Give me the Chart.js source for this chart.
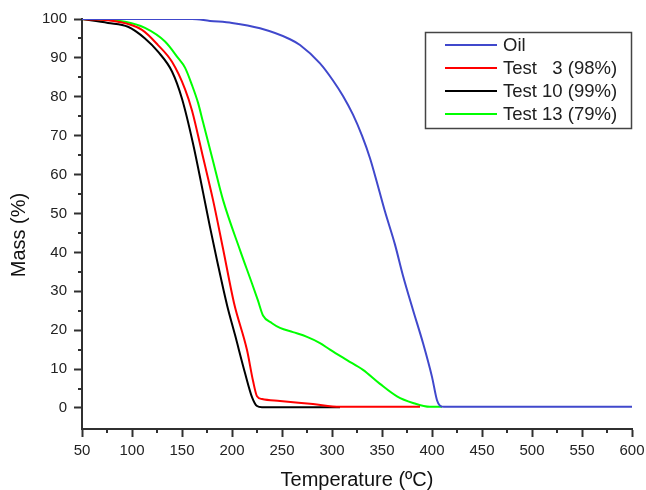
<!DOCTYPE html>
<html>
<head>
<meta charset="utf-8">
<script src="https://cdn.jsdelivr.net/npm/chart.js@4/dist/chart.umd.min.js"></script>
<style>
	html, body { margin: 0; padding: 0; background: #fff; }
	#wrap { width: 646px; height: 490px; }
</style>
</head>
<body>
<div id="wrap"><canvas id="tga-chart" width="646" height="490"></canvas></div>
<script>
// values
const oilTemp = [50, 160, 178, 200, 228, 258, 268, 288, 301, 311, 321, 330, 338, 346, 353, 363, 371, 381, 391, 400, 405, 408, 412, 600];
const oilMass = [100, 100, 99.5, 99, 97.6, 94.8, 93.3, 88.6, 84.2, 80.2, 75.4, 70, 64.2, 57, 50.5, 42, 34, 25.2, 16.7, 8, 2, 0.6, 0.3, 0.3];

const test3Temp = [50, 86, 110, 126, 140, 153, 160, 171, 181, 191, 202, 215, 221, 225, 230, 248, 281, 308, 388];
const test3Mass = [100, 99.3, 97.2, 93.3, 89, 82, 76.5, 64.5, 53.5, 41, 27, 14.9, 7, 3, 2.3, 1.8, 1, 0.3, 0.3];

const test10Temp = [50, 76, 96, 113, 126, 140, 150, 161, 171, 178, 185, 195, 203, 213, 220, 225, 230, 308];
const test10Mass = [100, 99, 98, 95, 91.6, 86.5, 79.5, 68, 55.5, 46.5, 38, 26.5, 18.8, 9, 2.8, 0.5, 0.2, 0.2];

const test13Temp = [50, 93, 113, 133, 146, 153, 160, 166, 171, 181, 191, 208, 220, 226, 231, 240, 248, 261, 275, 288, 298, 315, 331, 348, 365, 381, 398, 410];
const test13Mass = [100, 99.3, 97.7, 94.2, 90, 87.5, 83, 78.5, 73.5, 63.5, 53.5, 40.6, 32, 27.6, 23.8, 21.8, 20.6, 19.5, 18.3, 16.7, 15, 12.3, 9.8, 6.2, 3, 1.3, 0.3, 0.3];

const seriesLabels = ["Oil", "Test   3 (98%)", "Test 10 (99%)", "Test 13 (79%)"];
const seriesColors = ["#4048cc", "#ff0000", "#000000", "#00ff00"];

const xTicks = [50, 100, 150, 200, 250, 300, 350, 400, 450, 500, 550, 600];
const yTicks = [0, 10, 20, 30, 40, 50, 60, 70, 80, 90, 100];

const FONT = "'Liberation Sans', Arial, sans-serif";
const AXIS = "#303030";

function toPoints(xs, ys) {
	return xs.map((x, i) => ({ x: x, y: ys[i] }));
}

const datasets = [
	toPoints(oilTemp, oilMass),
	toPoints(test3Temp, test3Mass),
	toPoints(test10Temp, test10Mass),
	toPoints(test13Temp, test13Mass),
].map((pts, i) => ({
	label: seriesLabels[i],
	data: pts,
	borderColor: seriesColors[i],
	backgroundColor: seriesColors[i],
	borderWidth: 2,
	pointRadius: 0,
	cubicInterpolationMode: "monotone",
}));

// minor ticks, y title and framed legend, drawn on top
const extras = {
	id: "extras",
	afterDraw(chart) {
		const c = chart.ctx;
		const xs = chart.scales.x;
		const ys = chart.scales.y;
		c.save();
		c.strokeStyle = AXIS;
		c.lineWidth = 2;
		c.beginPath();
		for (let v = 75; v < 600; v += 50) {
			const px = Math.round(xs.getPixelForValue(v));
			c.moveTo(px, xs.top);
			c.lineTo(px, xs.top + 4);
		}
		for (let v = 5; v < 100; v += 10) {
			const py = Math.round(ys.getPixelForValue(v));
			c.moveTo(ys.right, py);
			c.lineTo(ys.right - 4, py);
		}
		c.stroke();

		// y axis title (sits a bit below the axis middle in the original)
		c.save();
		c.translate(19, 235);
		c.rotate(-Math.PI / 2);
		c.font = "20px " + FONT;
		c.fillStyle = "#111";
		c.textAlign = "center";
		c.textBaseline = "middle";
		c.fillText("Mass (%)", 0, 0);
		c.restore();

		// legend box
		c.lineWidth = 1.5;
		c.strokeStyle = "#444";
		c.strokeRect(425.5, 32.5, 206, 96);
		c.font = "18.5px " + FONT;
		c.textBaseline = "middle";
		c.fillStyle = "#202020";
		chart.data.datasets.forEach((ds, i) => {
			const y = 45 + i * 23;
			c.strokeStyle = ds.borderColor;
			c.lineWidth = 2;
			c.beginPath();
			c.moveTo(445, y);
			c.lineTo(497, y);
			c.stroke();
			c.fillText(ds.label, 503, y + 1);
		});
		c.restore();
	},
};

new Chart(document.getElementById("tga-chart"), {
	type: "line",
	data: { datasets: datasets },
	options: {
		responsive: false,
		animation: false,
		layout: { padding: { left: 0, right: 14, top: 19, bottom: 0 } },
		plugins: {
			legend: { display: false },
			tooltip: { enabled: false },
		},
		scales: {
			x: {
				type: "linear",
				min: 50,
				max: 600,
				afterBuildTicks: (scale) => {
					scale.ticks = xTicks.map((v) => ({ value: v }));
				},
				afterFit: (scale) => {
					scale.height = 61;
					scale.paddingLeft = 0;
					scale.paddingRight = 0;
				},
				grid: {
					drawOnChartArea: false,
					tickLength: 8,
					tickWidth: 2,
					tickColor: AXIS,
				},
				border: { display: true, color: AXIS, width: 2 },
				ticks: {
					color: "#222",
					font: { family: FONT, size: 15 },
					padding: 5,
					maxRotation: 0,
				},
				title: {
					display: true,
					text: "Temperature (ºC)",
					color: "#111",
					font: { family: FONT, size: 20, lineHeight: 1 },
					padding: 0,
				},
			},
			y: {
				type: "linear",
				min: -5.4,
				max: 100,
				afterBuildTicks: (scale) => {
					scale.ticks = yTicks.map((v) => ({ value: v }));
				},
				afterFit: (scale) => {
					scale.width = 82;
				},
				grid: {
					drawOnChartArea: false,
					tickLength: 8,
					tickWidth: 2,
					tickColor: AXIS,
				},
				border: { display: true, color: AXIS, width: 2 },
				ticks: {
					color: "#222",
					font: { family: FONT, size: 15 },
					padding: 7,
				},
				title: { display: false },
			},
		},
	},
	plugins: [extras],
});
</script>
</body>
</html>
